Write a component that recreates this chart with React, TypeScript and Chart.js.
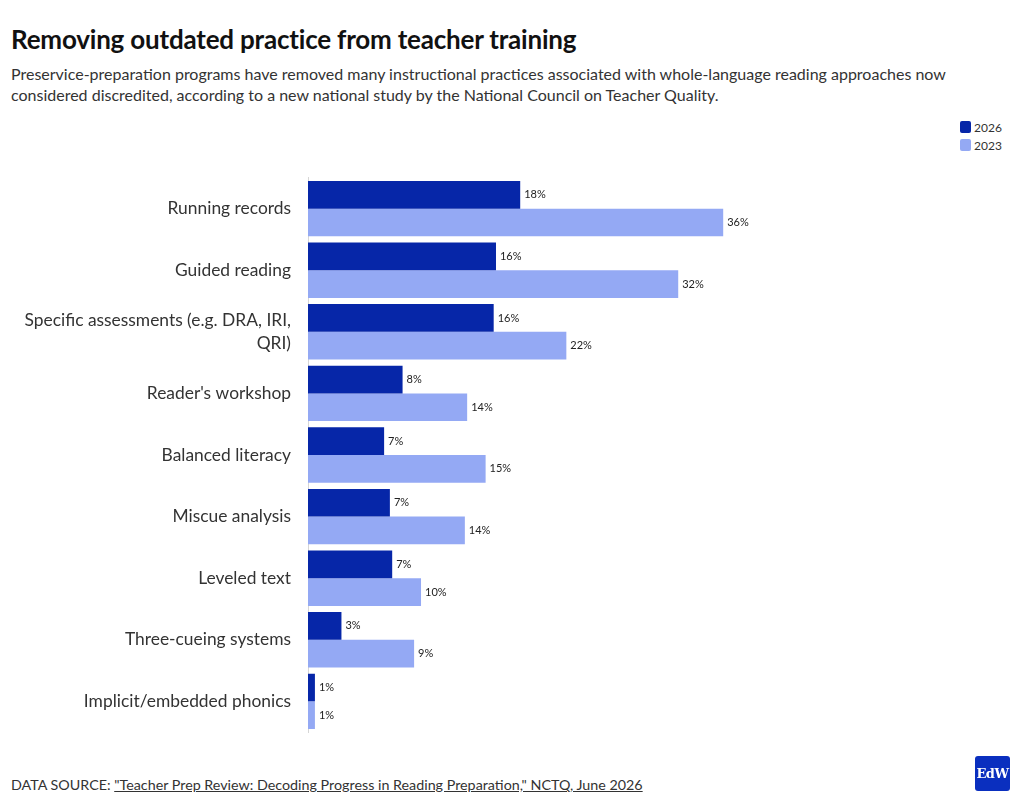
import React, { useEffect, useRef } from "react";
import { Chart, registerables } from "chart.js";

Chart.register(...registerables);

const categories: (string | string[])[] = [
  "Running records",
  "Guided reading",
  ["Specific assessments (e.g. DRA, IRI,", "QRI)"],
  "Reader's workshop",
  "Balanced literacy",
  "Miscue analysis",
  "Leveled text",
  "Three-cueing systems",
  "Implicit/embedded phonics",
];
const values2026 = [18.4, 16.3, 16.1, 8.2, 6.6, 7.1, 7.3, 2.9, 0.6];
const values2023 = [36.0, 32.1, 22.4, 13.8, 15.4, 13.6, 9.8, 9.2, 0.6];
const seriesNames = ["2026", "2023"];
const xMax = 60;

const DARK = "#0626a8";
const LIGHT = "#94a9f4";
const FONT = "Lato, 'Noto Sans', sans-serif";

const labelPlugin = {
  id: "barLabels",
  afterDatasetsDraw(chart: any) {
    const ctx = chart.ctx;
    ctx.save();
    ctx.font = `11px ${FONT}`;
    ctx.fillStyle = "#222";
    ctx.textAlign = "left";
    ctx.textBaseline = "middle";
    chart.data.datasets.forEach((ds: any, di: number) => {
      const meta = chart.getDatasetMeta(di);
      meta.data.forEach((bar: any, i: number) => {
        const v = ds.data[i];
        ctx.fillText(`${Math.round(v)}%`, bar.x + 4, bar.y);
      });
    });
    ctx.restore();
  },
};

export default function App() {
  const ref = useRef<HTMLCanvasElement | null>(null);
  useEffect(() => {
    document.body.style.margin = "0";
    if (!ref.current) return;
    const chart = new Chart(ref.current, {
      type: "bar",
      data: {
        labels: categories,
        datasets: [
          {
            label: seriesNames[0],
            data: values2026,
            backgroundColor: DARK,
            barPercentage: 1,
            categoryPercentage: 0.9,
          },
          {
            label: seriesNames[1],
            data: values2023,
            backgroundColor: LIGHT,
            barPercentage: 1,
            categoryPercentage: 0.9,
          },
        ],
      },
      options: {
        indexAxis: "y",
        animation: false,
        responsive: false,
        maintainAspectRatio: false,
        layout: { padding: { top: 7, bottom: 8, right: 20, left: 0 } },
        plugins: {
          legend: { display: false },
          tooltip: { enabled: false },
        },
        scales: {
          x: {
            display: false,
            min: 0,
            max: xMax,
          },
          y: {
            grid: { display: false, drawTicks: false },
            border: { display: true, color: "#d6d6d6", width: 1 },
            ticks: {
              color: "#333",
              padding: 17,
              font: { family: FONT, size: 17.4, lineHeight: 1.36 },
            },
            afterFit: (scale: any) => {
              scale.width = 308;
            },
          },
        },
      },
      plugins: [labelPlugin],
    });
    return () => chart.destroy();
  }, []);

  return (
    <div
      style={{
        position: "relative",
        width: 1020,
        height: 805,
        fontFamily: FONT,
        color: "#333",
        overflow: "hidden",
        background: "#fff",
      }}
    >
      <div
        style={{
          position: "absolute",
          left: 11,
          top: 23,
          fontSize: 26,
          fontWeight: 700,
          color: "#111",
          whiteSpace: "nowrap",
          letterSpacing: -0.2,
        }}
      >
        Removing outdated practice from teacher training
      </div>
      <div
        style={{
          position: "absolute",
          left: 11,
          top: 63,
          width: 1000,
          fontSize: 16,
          lineHeight: "21px",
          color: "#333",
          whiteSpace: "nowrap",
        }}
      >
        Preservice-preparation programs have removed many instructional practices associated with whole-language reading approaches now
        <br />
        considered discredited, according to a new national study by the National Council on Teacher Quality.
      </div>
      <div style={{ position: "absolute", left: 960, top: 118, fontSize: 12, color: "#333" }}>
        {seriesNames.map((n, i) => (
          <div key={n} style={{ display: "flex", alignItems: "center", height: 18 }}>
            <span
              style={{
                display: "inline-block",
                width: 11,
                height: 12,
                borderRadius: 2,
                background: i === 0 ? DARK : LIGHT,
                marginRight: 3,
              }}
            />
            {n}
          </div>
        ))}
      </div>
      <canvas
        ref={ref}
        width={1020}
        height={612}
        style={{ position: "absolute", left: 0, top: 149, width: 1020, height: 612 }}
      />
      <div style={{ position: "absolute", left: 11, top: 776, fontSize: 14.3, color: "#333", whiteSpace: "nowrap" }}>
        DATA SOURCE:{" "}
        <span style={{ textDecoration: "underline" }}>
          "Teacher Prep Review: Decoding Progress in Reading Preparation," NCTQ, June 2026
        </span>
      </div>
      <div
        style={{
          position: "absolute",
          left: 975,
          top: 756,
          width: 35,
          height: 35,
          borderRadius: 3,
          background: "#0a2fbf",
          color: "#fff",
          fontFamily: "'DejaVu Serif', 'Liberation Serif', serif",
          fontSize: 13,
          fontWeight: 700,
          display: "flex",
          alignItems: "center",
          justifyContent: "center",
          letterSpacing: -0.5,
        }}
      >
        EdW
      </div>
    </div>
  );
}
